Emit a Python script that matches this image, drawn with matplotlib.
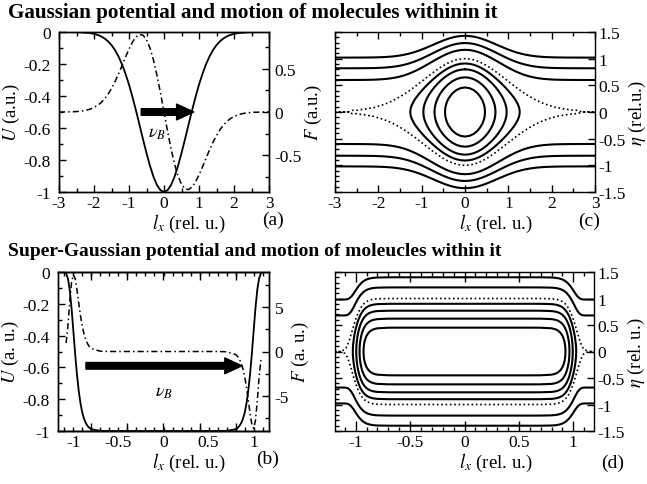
import numpy as np
import matplotlib.pyplot as plt
from matplotlib.ticker import MultipleLocator, FixedLocator, FuncFormatter

# Gaussian well at x = 0, 0.1, ..., 3 (symmetric)
gauss_u_half = [-1.000, -0.989, -0.957, -0.905, -0.837, -0.757, -0.670, -0.580,
                -0.491, -0.407, -0.329, -0.261, -0.202, -0.153, -0.113, -0.082,
                -0.058, -0.040, -0.027, -0.018, -0.012, -0.007, -0.005, -0.003,
                -0.002, -0.001, -0.001, 0.0, 0.0, 0.0, 0.0]
# force on the left half (positive), antisymmetric about 0
gauss_f_half = [0.0, 0.220, 0.425, 0.603, 0.744, 0.841, 0.893, 0.902, 0.873,
                0.814, 0.731, 0.638, 0.539, 0.442, 0.352, 0.273, 0.206, 0.151,
                0.108, 0.076, 0.053, 0.035, 0.023, 0.014, 0.009, 0.005, 0.003,
                0.002, 0.001, 0.0, 0.0]

# super-Gaussian well
sg_x_half = [0.0, 0.2, 0.4, 0.6, 0.7, 0.8, 0.82, 0.84, 0.86, 0.88, 0.90, 0.92,
             0.94, 0.96, 0.98, 1.00, 1.02, 1.04, 1.06, 1.08, 1.10, 1.15, 1.2]
sg_u_half = [-1.0, -1.0, -1.0, -1.0, -0.999, -0.989, -0.981, -0.970, -0.952,
             -0.925, -0.886, -0.828, -0.748, -0.643, -0.513, -0.368, -0.226,
             -0.112, -0.041, -0.009, -0.001, 0.0, 0.0]
sg_f_half = [0.0, 0.0, 0.0, 0.001, 0.027, 0.333, 0.529, 0.827, 1.27, 1.91, 2.80,
             3.97, 5.40, 6.92, 8.18, 8.61, 7.71, 5.51, 2.87, 0.96, 0.17, 0.0, 0.0]

# phase portraits: eta at x=0 for closed orbits, eta at the edge for open ones
gauss_closed_eta0 = [0.46, 0.65, 0.80, 0.91]
gauss_open_eta_edge = [0.60, 0.82, 1.02]
sg_closed_eta0 = [0.45, 0.62, 0.77, 0.90]
sg_open_eta_edge = [0.68, 0.98]

gauss_x = np.linspace(-3, 3, 61)
gauss_u = np.r_[gauss_u_half[::-1], gauss_u_half[1:]]
gauss_f = np.r_[gauss_f_half[::-1], -np.array(gauss_f_half[1:])]
sg_x = np.r_[-np.array(sg_x_half[::-1]), sg_x_half[1:]]
sg_u = np.r_[sg_u_half[::-1], sg_u_half[1:]]
sg_f = np.r_[sg_f_half[::-1], -np.array(sg_f_half[1:])]

plt.rcParams.update({
    "font.family": "Liberation Serif",
    "mathtext.fontset": "stix",
    "axes.unicode_minus": False,
    "font.size": 12.5,
    "axes.labelsize": 13.5,
    "xtick.direction": "in",
    "ytick.direction": "in",
    "xtick.major.pad": 2,
    "ytick.major.pad": 2.5,
    "axes.linewidth": 1.0,
})
fmt = FuncFormatter(lambda v, p: f"{round(v, 6) + 0:g}")
dashdot = (0, (4, 2, 1, 2))

fig = plt.figure(figsize=(6.47, 4.85), dpi=100)
fig.text(0.012, 1 - 13 / 485, "Gaussian potential and motion of molecules withinin it",
         fontsize=15.2, fontweight="bold", va="center")
fig.text(0.012, 1 - 252 / 485, "Super-Gaussian potential and motion of moleucles within it",
         fontsize=14.0, fontweight="bold", va="center")

ax_a = fig.add_axes([59 / 647, 1 - 193 / 485, 210 / 647, 160 / 485])
ax_c = fig.add_axes([335 / 647, 1 - 193 / 485, 260 / 647, 160 / 485])
ax_b = fig.add_axes([58 / 647, 1 - 432 / 485, 211 / 647, 159 / 485])
ax_d = fig.add_axes([335 / 647, 1 - 432 / 485, 259 / 647, 159 / 485])


def style(ax, sides):
    ax.tick_params(which="major", length=5, width=1, **sides)
    ax.tick_params(which="minor", length=3, width=1, **sides)
    ax.xaxis.set_major_formatter(fmt)
    ax.yaxis.set_major_formatter(fmt)


def set_xlabel(ax):
    ax.set_xlabel("$l_x$ (rel. u.)")
    ax.xaxis.set_label_coords(0.62, -0.125)


def well_panel(ax, x, u, f, flim, fmaj, fmin, ylab, flab):
    ax.plot(x, u, color="k", lw=1.3)
    ax.set_ylim(-1, 0)
    ax.yaxis.set_major_locator(MultipleLocator(0.2))
    ax.yaxis.set_minor_locator(MultipleLocator(0.1))
    style(ax, dict(top=True, right=False))
    ax.tick_params(axis="y", which="major", pad=6)
    ax.set_ylabel(ylab, labelpad=1)
    set_xlabel(ax)
    tw = ax.twinx()
    tw.plot(x, f, color="k", lw=1.1, ls=dashdot)
    tw.set_ylim(-flim, flim)
    tw.yaxis.set_major_locator(MultipleLocator(fmaj))
    tw.yaxis.set_minor_locator(MultipleLocator(fmin))
    style(tw, dict(left=False, right=True))
    tw.tick_params(axis="y", which="major", pad=4)
    tw.set_ylabel(flab, labelpad=1)
    return tw


def phase_panel(ax, x, u, closed_eta0, open_eta_edge, u_center):
    eta = np.linspace(-1.6, 1.6, 641)
    energy = eta[:, None] ** 2 + np.asarray(u)[None, :]
    levels = sorted([e ** 2 + u_center for e in closed_eta0] +
                    [e ** 2 for e in open_eta_edge])
    ax.contour(x, eta, energy, levels=levels, colors="k", linewidths=1.5,
               linestyles="solid")
    sep = np.sqrt(-np.minimum(u, 0))
    ax.plot(np.r_[x, x[::-1]], np.r_[sep, -sep[::-1]], color="k", lw=1.2,
            ls=(0, (1, 1.6)))
    ax.set_ylim(-1.5, 1.5)
    ax.yaxis.set_major_locator(MultipleLocator(0.5))
    ax.yaxis.set_minor_locator(MultipleLocator(0.1))
    style(ax, dict(top=True, left=True, right=True, labelleft=False,
                   labelright=True))
    ax.tick_params(axis="y", which="minor", right=False)
    ax.yaxis.set_label_position("right")
    set_xlabel(ax)


# (a)
well_panel(ax_a, gauss_x, gauss_u, gauss_f, 0.93, 0.5, 0.25,
           "$U$ (a.u.)", "$F$ (a.u.)")
ax_a.set_xlim(-3, 3)
ax_a.xaxis.set_major_locator(MultipleLocator(1))
ax_a.xaxis.set_minor_locator(MultipleLocator(0.5))
ax_a.annotate("", xy=(0.85, -0.5), xytext=(-0.65, -0.5),
              arrowprops=dict(arrowstyle="simple,head_length=0.65,head_width=0.6,tail_width=0.25",
                              mutation_scale=19, fc="k", ec="k", shrinkA=0, shrinkB=0))
ax_a.text(-0.2, -0.63, r"$\nu_B$", fontsize=13, ha="center", va="center")

# (b)
near = np.abs(sg_x) <= 1.08
well_panel(ax_b, sg_x[near], sg_u[near], sg_f[near], 8.9, 5, 2.5,
           "$U$ (a. u.)", "$F$ (a. u.)")
ax_b.set_xlim(-1.17, 1.17)
ax_b.xaxis.set_major_locator(MultipleLocator(0.5))
ax_b.xaxis.set_minor_locator(MultipleLocator(0.1))
ax_b.tick_params(axis="x", which="major", length=3)
for side in ("bottom", "top"):
    sec = ax_b.secondary_xaxis(side)
    sec.xaxis.set_major_locator(FixedLocator([-0.8, -0.4, 0, 0.4, 0.8]))
    sec.tick_params(direction="in", length=6, width=1, labelbottom=False,
                    labeltop=False)
ax_b.annotate("", xy=(0.87, -0.59), xytext=(-0.86, -0.59),
              arrowprops=dict(arrowstyle="simple,head_length=0.65,head_width=0.6,tail_width=0.25",
                              mutation_scale=19, fc="k", ec="k", shrinkA=0, shrinkB=0))
ax_b.text(0.0, -0.75, r"$\nu_B$", fontsize=13, ha="center", va="center")

# (c)
phase_panel(ax_c, gauss_x, gauss_u, gauss_closed_eta0, gauss_open_eta_edge,
            gauss_u_half[0])
ax_c.set_xlim(-3, 3)
ax_c.xaxis.set_major_locator(MultipleLocator(1))
ax_c.xaxis.set_minor_locator(MultipleLocator(0.5))
ax_c.set_ylabel(r"$\eta$ (rel.u.)", labelpad=1)

# (d)
phase_panel(ax_d, sg_x, sg_u, sg_closed_eta0, sg_open_eta_edge, sg_u_half[0])
ax_d.set_xlim(-1.19, 1.19)
ax_d.xaxis.set_major_locator(MultipleLocator(0.5))
ax_d.xaxis.set_minor_locator(MultipleLocator(0.1))
ax_d.tick_params(axis="x", which="major", length=7)
ax_d.set_ylabel(r"$\eta$ (rel. u.)", labelpad=1)

for lab, px, py in [("(a)", 273, 220), ("(c)", 589, 221),
                    ("(b)", 268, 459), ("(d)", 613, 463)]:
    fig.text(px / 647, 1 - py / 485, lab, fontsize=14, ha="center", va="center")

fig.savefig("out.png", dpi=100)
